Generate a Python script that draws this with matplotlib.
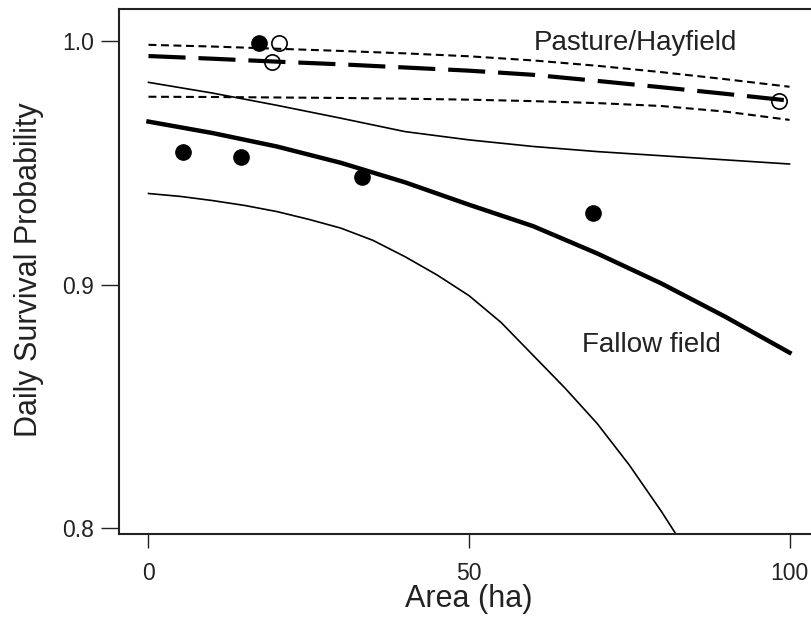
import matplotlib.pyplot as plt

plt.rcParams['font.family'] = ['Liberation Sans', 'DejaVu Sans']

# curves
area = [0, 10, 20, 30, 40, 50, 60, 70, 80, 90, 100]
pasture_mean = [0.9938, 0.9927, 0.9915, 0.9904, 0.9891, 0.9878, 0.9861, 0.9836, 0.9810, 0.9783, 0.9755]
pasture_upper = [0.9984, 0.9977, 0.9968, 0.9959, 0.9949, 0.9937, 0.9920, 0.9898, 0.9872, 0.9843, 0.9812]
pasture_lower = [0.9771, 0.9770, 0.9768, 0.9766, 0.9763, 0.9759, 0.9753, 0.9745, 0.9733, 0.9710, 0.9676]
fallow_mean = [0.9669, 0.9622, 0.9567, 0.9500, 0.9420, 0.9328, 0.9240, 0.9128, 0.9005, 0.8868, 0.8721]
fallow_upper = [0.9830, 0.9786, 0.9736, 0.9683, 0.9628, 0.9594, 0.9567, 0.9546, 0.9529, 0.9512, 0.9495]

area_fine = [0, 5, 10, 15, 20, 25, 30, 35, 40, 45, 50, 55, 60, 65, 70, 75, 80, 85]
fallow_lower = [0.9374, 0.9362, 0.9345, 0.9325, 0.9300, 0.9268, 0.9232, 0.9182, 0.9115,
                0.9040, 0.8955, 0.8845, 0.8710, 0.8575, 0.8430, 0.8260, 0.8070, 0.7865]

# observed points
fallow_x = [5.4, 14.4, 17.3, 33.3, 69.4]
fallow_y = [0.9543, 0.9525, 0.9993, 0.9443, 0.9293]
pasture_x = [20.4, 19.2, 98.3]
pasture_y = [0.9993, 0.9912, 0.9755]

ink = '#222222'

fig = plt.figure(figsize=(8.12, 6.22), dpi=100)
ax = fig.add_axes([119 / 812, 88 / 622, (828 - 119) / 812, 525 / 622])

# pasture / hayfield
ax.plot(area, pasture_mean, color='black', lw=3.0, dashes=(8.9, 3.1), solid_capstyle='butt')
ax.plot(area, pasture_upper, color='black', lw=1.5, dashes=(3.8, 2.2))
ax.plot(area, pasture_lower, color='black', lw=1.5, dashes=(3.8, 2.2))

# fallow field
ax.plot(area, fallow_mean, color='black', lw=3.2)
ax.plot(area, fallow_upper, color='black', lw=1.2)
ax.plot(area_fine, fallow_lower, color='black', lw=1.2)

ax.plot(fallow_x, fallow_y, 'o', color='black', ms=11, zorder=5)
ax.plot(pasture_x, pasture_y, 'o', mfc='none', mec='black', mew=1.2, ms=11, zorder=5)

ax.text(75.9, 0.99631, 'Pasture/Hayfield', fontsize=20, color=ink, ha='center', va='baseline')
ax.text(78.4, 0.87253, 'Fallow field', fontsize=20, color=ink, ha='center', va='baseline')

ax.set_xlim(-4.6, 106)
ax.set_ylim(0.7977, 1.0131)
ax.set_xticks([0, 50, 100])
ax.set_yticks([0.8, 0.9, 1.0])
ax.set_yticklabels(['0.8', '0.9', '1.0'])

for side in ['left', 'bottom', 'top', 'right']:
    ax.spines[side].set_linewidth(1.5)
    ax.spines[side].set_color(ink)

ax.tick_params(axis='y', length=13, width=1.0, pad=5, labelsize=16.5, colors=ink)
ax.tick_params(axis='x', length=10, width=1.0, pad=10, labelsize=16.5, colors=ink)

ax.set_xlabel('Area (ha)', fontsize=22, color=ink)
ax.set_ylabel('Daily Survival Probability', fontsize=22, color=ink)
ax.xaxis.set_label_coords(0.4932, -0.139)
ax.xaxis.label.set_va('baseline')
ax.yaxis.set_label_coords(-0.127, 0.503)
ax.yaxis.label.set_va('center')

fig.savefig('out.png', dpi=100)
